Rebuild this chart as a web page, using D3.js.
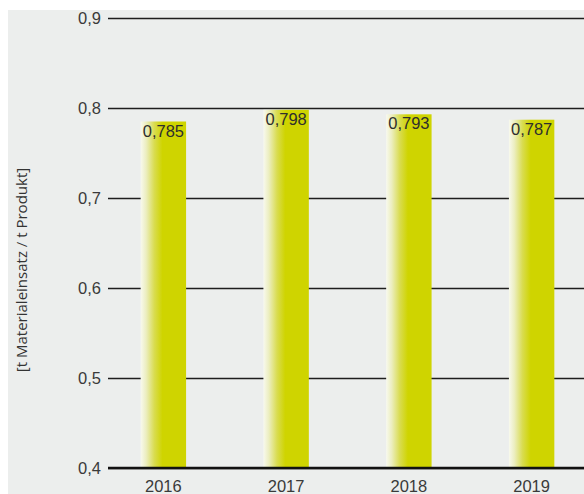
<!DOCTYPE html>
<html>
<head>
<meta charset="utf-8">
<script src="https://cdn.jsdelivr.net/npm/d3@7/dist/d3.min.js"></script>
<style>
  html, body { margin: 0; padding: 0; background: #ffffff; }
  svg { display: block; }
</style>
</head>
<body>
<svg id="chart" width="584" height="494"></svg>
<script>
// Material input per ton of product, by year
const years = ["2016", "2017", "2018", "2019"];
const values = [0.785, 0.798, 0.793, 0.787];
const valueLabels = ["0,785", "0,798", "0,793", "0,787"];
const yTicks = [0.4, 0.5, 0.6, 0.7, 0.8, 0.9];
const yTickLabels = ["0,4", "0,5", "0,6", "0,7", "0,8", "0,9"];
const axisTitle = "[t Materialeinsatz / t Produkt]";

const W = 584, H = 494;
const svg = d3.select("#chart");
const font = "'Liberation Sans', Arial, Helvetica, sans-serif";

// panel background
svg.append("rect").attr("x", 8).attr("y", 10).attr("width", W - 8).attr("height", H - 10)
  .attr("fill", "#eceeed");

const defs = svg.append("defs");
const grad = defs.append("linearGradient").attr("id", "barGrad")
  .attr("x1", "0%").attr("x2", "100%").attr("y1", "0%").attr("y2", "0%");
grad.append("stop").attr("offset", "0%").attr("stop-color", "#f8f9ee");
grad.append("stop").attr("offset", "12%").attr("stop-color", "#eceec0");
grad.append("stop").attr("offset", "30%").attr("stop-color", "#d9dc50");
grad.append("stop").attr("offset", "48%").attr("stop-color", "#cfd400");
grad.append("stop").attr("offset", "100%").attr("stop-color", "#cfd400");

const y = d3.scaleLinear().domain([0.4, 0.9]).range([468, 18]);
const x = d3.scaleBand().domain(years).range([102, 593]).paddingInner(0.63).paddingOuter(0.315);

// gridlines
const grid = svg.append("g").attr("transform", "translate(108,0)")
  .call(d3.axisLeft(y).tickValues(yTicks).tickSize(-(W - 108)).tickFormat(""));
grid.select(".domain").remove();
grid.selectAll(".tick line").attr("stroke", "#1e1e1e").attr("stroke-width", 1.3);

// tick labels
const yLab = svg.append("g").attr("transform", "translate(101,0)")
  .call(d3.axisLeft(y).tickValues(yTicks).tickSize(0).tickPadding(0)
    .tickFormat((d, i) => yTickLabels[i]));
yLab.select(".domain").remove();
yLab.selectAll("text").attr("font-family", font).attr("font-size", 16.5)
  .attr("fill", "#3a3a3a").attr("dy", "0.36em");

// bars
svg.append("g").selectAll("rect").data(values).join("rect")
  .attr("x", (d, i) => x(years[i]))
  .attr("width", x.bandwidth())
  .attr("y", d => y(d))
  .attr("height", d => y(0.4) - y(d))
  .attr("fill", "url(#barGrad)");

// baseline
svg.append("line").attr("x1", 108).attr("x2", W).attr("y1", y(0.4)).attr("y2", y(0.4))
  .attr("stroke", "#111").attr("stroke-width", 2.5);

// value labels
svg.append("g").selectAll("text").data(values).join("text")
  .attr("x", (d, i) => x(years[i]) + x.bandwidth() / 2)
  .attr("y", d => y(d) + 15)
  .attr("text-anchor", "middle")
  .attr("font-family", font).attr("font-size", 16.5).attr("fill", "#2e2e2e")
  .text((d, i) => valueLabels[i]);

// x axis labels
const xAx = svg.append("g").attr("transform", `translate(0,${y(0.4)})`)
  .call(d3.axisBottom(x).tickSize(0).tickPadding(12));
xAx.select(".domain").remove();
xAx.selectAll("text").attr("font-family", font).attr("font-size", 16.5).attr("fill", "#3a3a3a");

// axis title
svg.append("text")
  .attr("transform", "translate(27,270) rotate(-90)")
  .attr("text-anchor", "middle")
  .attr("font-family", "'Open Sans', sans-serif").attr("font-size", 15).attr("fill", "#333")
  .text(axisTitle);
</script>
</body>
</html>
